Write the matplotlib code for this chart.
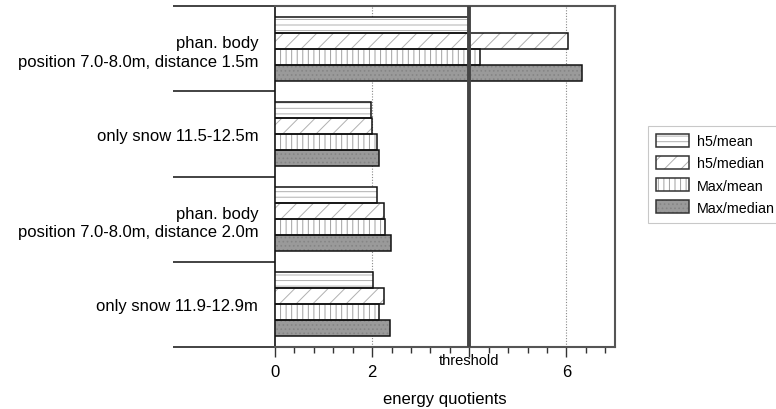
import matplotlib
matplotlib.use("Agg")
import matplotlib.pyplot as plt
import numpy as np
from matplotlib.patches import Patch
from matplotlib.legend_handler import HandlerTuple
from matplotlib.ticker import MultipleLocator, FixedLocator, NullFormatter

plt.rcParams['font.family'] = ['Liberation Sans', 'DejaVu Sans']
plt.rcParams['hatch.linewidth'] = 0.7

categories = [
    "phan. body\nposition 7.0-8.0m, distance 1.5m",
    "only snow 11.5-12.5m",
    "phan. body\nposition 7.0-8.0m, distance 2.0m",
    "only snow 11.9-12.9m",
]
series_names = ["h5/mean", "h5/median", "Max/mean", "Max/median"]
h5_mean = [4.0, 1.98, 2.11, 2.02]
h5_median = [6.04, 2.0, 2.24, 2.25]
max_mean = [4.22, 2.10, 2.26, 2.14]
max_median = [6.33, 2.14, 2.39, 2.37]
series_values = [h5_mean, h5_median, max_mean, max_median]
threshold = 4.0
x_ticks = [0, 2, 4, 6]
x_tick_labels = ["0", "2", "", "6"]

styles = [
    dict(face="white", hatch="---", hatch_color="#b0b0b0"),
    dict(face="white", hatch="//", hatch_color="#b0b0b0"),
    dict(face="white", hatch="|||", hatch_color="#a0a0a0"),
    dict(face="#9a9a9a", hatch="....", hatch_color="#858585"),
]

fig = plt.figure(figsize=(7.76, 4.10), dpi=100)
ax = fig.add_axes([275/776, 1 - 348/410, (615 - 275)/776, (348 - 7)/410])

bar_h = 0.1875
y = np.arange(len(categories))
for i, (vals, st) in enumerate(zip(series_values, styles)):
    pos = y - 0.375 + bar_h * (i + 0.5)
    ax.barh(pos, vals, height=bar_h, color=st["face"], hatch=st["hatch"],
            edgecolor=st["hatch_color"], linewidth=0, zorder=3)
    ax.barh(pos, vals, height=bar_h, fill=False, edgecolor="#111111",
            linewidth=1.1, zorder=4)

ax.set_ylim(len(categories) - 0.5, -0.5)
ax.set_xlim(0, 7.0)

for g in [2, 6]:
    ax.axvline(g, color="#888888", linestyle=(0, (1, 1.5)), linewidth=0.8, zorder=1)
ax.axvline(threshold, color="#444444", linewidth=2.8, zorder=5)

ax.xaxis.set_major_locator(FixedLocator(x_ticks))
ax.set_xticklabels(x_tick_labels, fontsize=12)
ax.xaxis.set_minor_locator(MultipleLocator(0.4))
ax.tick_params(axis="x", which="major", length=7, width=1.0, color="#333333", pad=5)
ax.tick_params(axis="x", which="minor", length=4, width=1.0, color="#333333")
ax.text(threshold, -0.018, "threshold", transform=ax.get_xaxis_transform(),
        ha="center", va="top", fontsize=10.5)
ax.set_xlabel("energy quotients", fontsize=12, labelpad=9)

ax.yaxis.set_major_locator(FixedLocator(np.arange(len(categories) + 1) - 0.5))
ax.yaxis.set_major_formatter(NullFormatter())
ax.tick_params(axis="y", which="major", length=73.5, width=1.2, color="#222222")
ax.set_yticks(y, minor=True)
ax.set_yticklabels(categories, minor=True, fontsize=12, ha="right",
                   multialignment="right", linespacing=1.3)
ax.tick_params(axis="y", which="minor", length=0, pad=12)

for s in ["top", "right", "bottom"]:
    ax.spines[s].set_color("#555555")
    ax.spines[s].set_linewidth(1.5)
ax.spines["left"].set_color("#111111")
ax.spines["left"].set_linewidth(1.2)

handles = []
for st in styles:
    p1 = Patch(facecolor=st["face"], hatch=st["hatch"], edgecolor=st["hatch_color"], linewidth=0)
    p2 = Patch(fill=False, edgecolor="#333333", linewidth=1.1)
    handles.append((p1, p2))
leg = fig.legend(handles, series_names, handler_map={tuple: HandlerTuple(ndivide=1)},
                 loc="upper left", bbox_to_anchor=(648/776, 1 - 127/410),
                 fontsize=10.3, frameon=True, fancybox=False, edgecolor="#bbbbbb",
                 handlelength=2.3, handleheight=1.0, handletextpad=0.6,
                 labelspacing=0.55, borderpad=0.55, borderaxespad=0)
leg.get_frame().set_linewidth(0.8)

fig.savefig("out.png", dpi=100)
